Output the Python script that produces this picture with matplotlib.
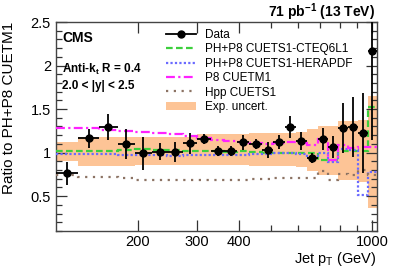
import matplotlib
matplotlib.use("Agg")
import matplotlib.pyplot as plt
from matplotlib.lines import Line2D
from matplotlib.patches import Patch
from matplotlib.ticker import FixedLocator, NullFormatter, FixedFormatter
import numpy as np

plt.rcParams['font.family'] = ['Liberation Sans', 'DejaVu Sans']
plt.rcParams['mathtext.fontset'] = 'custom'
plt.rcParams['mathtext.rm'] = 'Liberation Sans'
plt.rcParams['mathtext.it'] = 'Liberation Sans:italic'
plt.rcParams['mathtext.bf'] = 'Liberation Sans:bold'

# Bin edges (GeV)
edges = [114, 133, 153, 174, 196, 220, 245, 272, 300, 330, 362, 395, 430,
         468, 507, 548, 592, 638, 686, 737, 790, 846, 905, 967, 1032]

data_val = [0.76, 1.166, 1.29, 1.097, 0.994, 1.01, 1.01, 1.105, 1.155, 1.017,
            1.02, 1.117, 1.097, 1.03, 1.124, 1.295, 1.135, 0.94, 1.155, 1.067,
            1.28, 1.295, 1.22, 2.17]
data_err = [0.13, 0.11, 0.15, 0.17, 0.19, 0.10, 0.115, 0.12, 0.055, 0.055,
            0.057, 0.085, 0.057, 0.088, 0.08, 0.125, 0.10, 0.06, 0.125, 0.125,
            0.29, 0.34, 0.46, 1.02]

band_lo = [0.90, 0.85, 0.85, 0.85, 0.86, 0.86, 0.86, 0.86, 0.86, 0.86, 0.86, 0.86,
           0.85, 0.85, 0.85, 0.85, 0.83, 0.79, 0.74, 0.74, 0.68, 0.68, 0.66, 0.36]
band_hi = [1.12, 1.18, 1.18, 1.18, 1.18, 1.18, 1.18, 1.18, 1.21, 1.21, 1.21, 1.21,
           1.22, 1.22, 1.22, 1.22, 1.24, 1.27, 1.31, 1.31, 1.36, 1.36, 1.38, 1.65]

cteq = [1.02, 1.02, 1.02, 1.03, 1.04, 1.03, 1.03, 1.02, 1.02, 1.02, 1.01, 1.02,
        1.01, 1.00, 0.99, 0.99, 0.99, 0.99, 0.92, 0.91, 1.02, 1.02, 1.02, 1.52]
hera = [0.98, 0.98, 0.98, 0.97, 0.97, 0.97, 0.96, 0.97, 0.97, 0.97, 0.97, 0.97,
        0.98, 0.98, 0.99, 1.00, 0.98, 0.95, 1.00, 0.89, 1.04, 1.03, 0.51, 0.78]
p8m1 = [1.28, 1.28, 1.26, 1.25, 1.24, 1.22, 1.21, 1.19, 1.17, 1.14, 1.13, 1.12,
        1.11, 1.10, 1.11, 1.12, 1.11, 1.09, 1.16, 0.92, 1.09, 1.05, 1.06, 1.06]
hpp = [0.74, 0.72, 0.72, 0.71, 0.69, 0.68, 0.68, 0.68, 0.68, 0.69, 0.69, 0.69,
       0.70, 0.70, 0.71, 0.71, 0.71, 0.71, 0.79, 0.68, 0.75, 0.74, 0.80, 0.74]

labels = ["Data", "PH+P8 CUETS1-CTEQ6L1", "PH+P8 CUETS1-HERAPDF",
          "P8 CUETM1", "Hpp CUETS1", "Exp. uncert."]

xticks_major = [200, 300, 400, 1000]
yticks_major = [0.5, 1, 1.5, 2, 2.5]

c_band = '#fdc496'
c_green = '#3ccf3c'
c_blue = '#6a6aff'
c_mag = '#ff22ff'
c_brown = '#8c7364'

fig = plt.figure(figsize=(3.99, 2.72), dpi=100)
ax = fig.add_axes([0.140, 0.151, 0.805, 0.768])

e = np.array(edges, dtype=float)
ax.stairs(band_hi, e, baseline=band_lo, fill=True, color=c_band, lw=0, zorder=1)
ls_green = (0, (3, 1.5))
ls_blue = (0, (1, 1))
ls_mag = (0, (4, 1.5, 1, 1.5))
ls_brown = (0, (1, 2.5))
ax.stairs(cteq, e, baseline=None, color=c_green, lw=1.6, ls=ls_green, zorder=3)
ax.stairs(hera, e, baseline=None, color=c_blue, lw=1.6, ls=ls_blue, zorder=3)
ax.stairs(p8m1, e, baseline=None, color=c_mag, lw=1.6, ls=ls_mag, zorder=3)
ax.stairs(hpp, e, baseline=None, color=c_brown, lw=1.6, ls=ls_brown, zorder=3)

centers = np.sqrt(e[:-1] * e[1:])
xerr = np.vstack([centers - e[:-1], e[1:] - centers])
ax.errorbar(centers, data_val, yerr=data_err, xerr=xerr, fmt='o', color='black',
            ms=5, lw=1.3, capsize=0, zorder=5)

ax.set_xscale('log')
ax.set_xlim(114, 1032)
ax.set_ylim(0.1, 2.5)

ax.xaxis.set_major_locator(FixedLocator(xticks_major))
ax.xaxis.set_major_formatter(FixedFormatter([str(v) for v in xticks_major]))
ax.xaxis.set_minor_locator(FixedLocator([500, 600, 700, 800, 900]))
ax.xaxis.set_minor_formatter(NullFormatter())
ax.yaxis.set_major_locator(FixedLocator(yticks_major))
ax.yaxis.set_major_formatter(FixedFormatter([f"{v:g}" for v in yticks_major]))
ax.yaxis.set_minor_locator(FixedLocator(np.arange(0.1, 2.51, 0.1)))

ax.tick_params(which='both', direction='in', top=True, right=True, labelsize=10.5,
               color='#333333')
ax.tick_params(which='major', length=8, width=0.9)
ax.tick_params(which='minor', length=4, width=0.9)
ax.tick_params(axis='x', which='major', pad=3)
for s in ax.spines.values():
    s.set_color('#444444')
    s.set_linewidth(1.0)

ax.set_ylabel("Ratio to PH+P8 CUETM1", fontsize=11, loc='top')
ax.yaxis.set_label_coords(-0.125, 1.0)
ax.set_xlabel(r"Jet p$_\mathregular{T}$ (GeV)", fontsize=10.5, loc='right')
ax.xaxis.set_label_coords(1.0, -0.092)
ax.xaxis.label.set_va('top')

fig.text(0.940, 0.955, r"71 pb$^{\mathbf{-1}}$ (13 TeV)", ha='right', va='center',
         fontsize=10, fontweight='bold')
ax.text(0.02, 0.925, "CMS", transform=ax.transAxes, fontsize=10, fontweight='bold',
        va='center', ha='left')
ax.text(0.02, 0.775, r"Anti-k$_\mathregular{t}$ R = 0.4", transform=ax.transAxes,
        fontsize=8.5, fontweight='bold', va='center', ha='left')
ax.text(0.02, 0.695, "2.0 < |y| < 2.5", transform=ax.transAxes, fontsize=8.5,
        fontweight='bold', va='center', ha='left')

handles = [
    Line2D([], [], color='black', marker='o', ms=5, lw=1.3),
    Line2D([], [], color=c_green, lw=1.6, ls=ls_green),
    Line2D([], [], color=c_blue, lw=1.6, ls=ls_blue),
    Line2D([], [], color=c_mag, lw=1.6, ls=ls_mag),
    Line2D([], [], color=c_brown, lw=1.6, ls=ls_brown),
    Patch(facecolor=c_band, edgecolor='none'),
]
leg = fig.legend(handles, labels, loc='upper left', bbox_to_anchor=(0.415, 0.893),
                 frameon=False, fontsize=8.5, handlelength=2.6, handletextpad=0.7,
                 labelspacing=0.2, borderpad=0, borderaxespad=0)

fig.savefig("out.png", dpi=100)
